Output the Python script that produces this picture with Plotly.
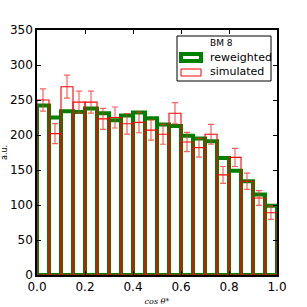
import numpy as np
import plotly.graph_objects as go

bin_edges = [round(0.05 * i, 2) for i in range(21)]
reweighted = [242, 225, 234, 233, 238, 231, 221, 228, 232, 224,
              215, 213, 199, 195, 191, 167, 149, 134, 115, 99]
simulated = [250, 202, 269, 247, 247, 223, 225, 216, 218, 207,
             201, 231, 190, 182, 201, 143, 168, 134, 110, 89]
sim_err = [15.8, 14.2, 16.4, 15.7, 15.7, 14.9, 15.0, 14.7, 14.8, 14.4,
           14.2, 15.2, 13.8, 13.5, 14.2, 12.0, 13.0, 11.6, 10.5, 9.4]
x_ticks = [0.0, 0.2, 0.4, 0.6, 0.8, 1.0]
y_ticks = [0, 50, 100, 150, 200, 250, 300, 350]

centers = [(a + b) / 2 for a, b in zip(bin_edges[:-1], bin_edges[1:])]
widths = [b - a for a, b in zip(bin_edges[:-1], bin_edges[1:])]

fig = go.Figure()
fig.add_trace(go.Bar(
    x=centers, y=reweighted, width=widths, name="reweighted",
    marker=dict(color="rgba(0,0,0,0)", line=dict(color="rgb(0,128,0)", width=4)),
    showlegend=False,
))
fig.add_trace(go.Bar(
    x=centers, y=simulated, width=widths, name="simulated",
    marker=dict(color="rgba(0,0,0,0)", line=dict(color="rgb(255,0,0)", width=1.1)),
    error_y=dict(type="data", array=sim_err, visible=True,
                 color="rgba(255,40,40,0.75)", thickness=1.2, width=3),
    showlegend=False,
))

font = "DejaVu Sans"
fig.update_layout(
    width=307, height=307,
    margin=dict(l=37, r=30, t=30, b=32, autoexpand=False),
    paper_bgcolor="white", plot_bgcolor="white",
    barmode="overlay",
    font=dict(family=font, size=12, color="black"),
    xaxis=dict(range=[0, 1], tickvals=x_ticks, ticktext=[f"{v:.1f}" for v in x_ticks],
               ticks="inside", ticklen=4, tickcolor="black", mirror="allticks",
               showline=True, linecolor="black", linewidth=1.5, showgrid=False,
               zeroline=False, tickfont=dict(size=12), automargin=False,
               title=dict(text="<i>cos θ*</i>", font=dict(family="DejaVu Serif", size=8),
                          standoff=5)),
    yaxis=dict(range=[0, 350], tickvals=y_ticks,
               ticks="inside", ticklen=4, tickcolor="black", mirror="allticks",
               showline=True, linecolor="black", linewidth=1.5, showgrid=False,
               zeroline=False, tickfont=dict(size=12), automargin=False,
               title=dict(text="a.u.", font=dict(size=8), standoff=4)),
)

# legend drawn manually
def px2x(px):
    return (px - 37) / 240

def px2y(py):
    return (275 - py) / 245

fig.add_shape(type="rect", xref="paper", yref="paper",
              x0=px2x(177), x1=px2x(271), y0=px2y(81), y1=px2y(36),
              line=dict(color="black", width=1), fillcolor="white", layer="above")
fig.add_shape(type="rect", xref="paper", yref="paper",
              x0=px2x(181), x1=px2x(201), y0=px2y(61), y1=px2y(54),
              line=dict(color="rgb(0,128,0)", width=4), fillcolor="white", layer="above")
fig.add_shape(type="rect", xref="paper", yref="paper",
              x0=px2x(181), x1=px2x(201), y0=px2y(76), y1=px2y(69),
              line=dict(color="rgb(255,0,0)", width=1), fillcolor="white", layer="above")
fig.add_annotation(xref="paper", yref="paper", x=px2x(221), y=px2y(43),
                   text="BM 8", showarrow=False, font=dict(size=9),
                   xanchor="center", yanchor="middle")
fig.add_annotation(xref="paper", yref="paper", x=px2x(208), y=px2y(57.5),
                   text="reweighted", showarrow=False, font=dict(size=11),
                   xanchor="left", yanchor="middle")
fig.add_annotation(xref="paper", yref="paper", x=px2x(208), y=px2y(72),
                   text="simulated", showarrow=False, font=dict(size=11),
                   xanchor="left", yanchor="middle")

fig.write_html("out.html", config={"displayModeBar": False},
               post_script="document.body.style.margin='0px';")
